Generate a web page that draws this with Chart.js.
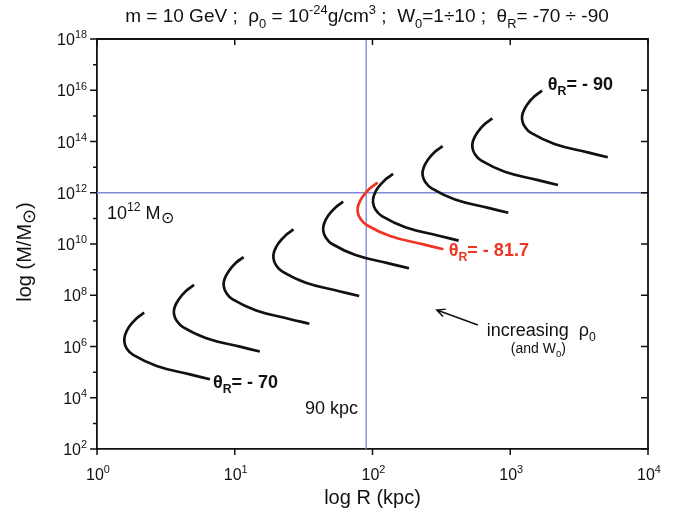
<!DOCTYPE html>
<html><head><meta charset="utf-8">
<script src="https://cdn.jsdelivr.net/npm/chart.js@4.4.1/dist/chart.umd.min.js"></script>
<style>html,body{margin:0;padding:0;background:#fff}</style>
</head><body>
<canvas id="c" width="688" height="516"></canvas>
<script>
// ---- data: R (kpc) and M (solar masses) along each curve ----
const R_m70   = [2.20, 1.94, 1.71, 1.60, 1.58, 1.64, 1.83, 2.71, 4.73, 6.61];
const M_m70   = [2.09e7, 1.26e7, 5.89e6, 2.82e6, 1.55e6, 8.51e5, 4.68e5, 1.74e5, 8.13e4, 5.25e4];
const R_m72   = [5.06, 4.46, 3.94, 3.66, 3.62, 3.78, 4.21, 6.22, 10.9, 15.2];
const M_m72   = [2.53e8, 1.52e8, 7.13e7, 3.41e7, 1.87e7, 1.03e7, 5.66e6, 2.10e6, 9.84e5, 6.35e5];
const R_m75   = [11.6, 10.2, 9.04, 8.41, 8.32, 8.67, 9.66, 14.3, 24.9, 34.8];
const M_m75   = [3.06e9, 1.85e9, 8.63e8, 4.13e8, 2.27e8, 1.25e8, 6.85e7, 2.55e7, 1.19e7, 7.69e6];
const R_m77   = [26.7, 23.5, 20.7, 19.3, 19.1, 19.9, 22.2, 32.8, 57.3, 80.0];
const M_m77   = [3.71e10, 2.23e10, 1.05e10, 5.00e9, 2.75e9, 1.51e9, 8.30e8, 3.08e8, 1.44e8, 9.31e7];
const R_m80   = [61.2, 54.0, 47.6, 44.4, 43.9, 45.7, 50.9, 75.3, 131, 184];
const M_m80   = [4.49e11, 2.70e11, 1.26e11, 6.05e10, 3.33e10, 1.83e10, 1.00e10, 3.73e9, 1.75e9, 1.13e9];
const R_m817  = [109, 95.9, 84.7, 78.9, 78.0, 81.3, 90.6, 134, 234, 327];
const M_m817  = [2.47e12, 1.49e12, 6.97e11, 3.33e11, 1.83e11, 1.01e11, 5.53e10, 2.06e10, 9.62e9, 6.21e9];
const R_m82   = [141, 124, 109, 102, 101, 105, 117, 173, 302, 422];
const M_m82   = [5.43e12, 3.27e12, 1.53e12, 7.33e11, 4.03e11, 2.21e11, 1.22e11, 4.52e10, 2.11e10, 1.36e10];
const R_m85   = [323, 284, 251, 234, 231, 241, 269, 397, 693, 968];
const M_m85   = [6.58e13, 3.96e13, 1.85e13, 8.87e12, 4.88e12, 2.68e12, 1.47e12, 5.47e11, 2.56e11, 1.65e11];
const R_m87   = [741, 653, 577, 537, 531, 553, 617, 912, 1592, 2223];
const M_m87   = [7.96e14, 4.80e14, 2.24e14, 1.07e14, 5.90e13, 3.24e13, 1.78e13, 6.62e12, 3.10e12, 2.00e12];
const R_m90   = [1702, 1500, 1324, 1233, 1219, 1271, 1416, 2094, 3656, 5105];
const M_m90   = [9.64e15, 5.81e15, 2.72e15, 1.30e15, 7.14e14, 3.93e14, 2.16e14, 8.02e13, 3.75e13, 2.42e13];

const refR = 90;      // kpc, vertical reference line
const refM = 1e12;    // solar masses, horizontal reference line

const xTickExponents = [0, 1, 2, 3, 4];
const yTickExponents = [2, 4, 6, 8, 10, 12, 14, 16, 18];
const yMinorExponents = [3, 5, 7, 9, 11, 13, 15, 17];

// ---------------------------------------------------------------
const FAM = "'Liberation Sans', Arial, sans-serif";
const BLACK = '#111111', RED = '#ee3524', BLUE = '#7f8ad6';

function pts(R, M) { return R.map((r, i) => ({ x: r, y: M[i] })); }
function curve(R, M, color) {
  return { data: pts(R, M), showLine: true, borderColor: color, borderWidth: 2.7,
           pointRadius: 0, tension: 0.45, fill: false, order: 0 };
}
const datasets = [
  { data: [{ x: refR, y: 1e2 }, { x: refR, y: 1e18 }], showLine: true, borderColor: BLUE, borderWidth: 1.4, pointRadius: 0, order: 2 },
  { data: [{ x: 1, y: refM }, { x: 1e4, y: refM }], showLine: true, borderColor: BLUE, borderWidth: 1.4, pointRadius: 0, order: 2 },
  curve(R_m70, M_m70, BLACK), curve(R_m72, M_m72, BLACK), curve(R_m75, M_m75, BLACK),
  curve(R_m77, M_m77, BLACK), curve(R_m80, M_m80, BLACK), curve(R_m82, M_m82, BLACK),
  curve(R_m85, M_m85, BLACK), curve(R_m87, M_m87, BLACK), curve(R_m90, M_m90, BLACK),
  curve(R_m817, M_m817, RED)
];

// rich text: parts = [[text, kind]] kind 0 normal, 1 sup, -1 sub, -2 large symbol subscript
function partSize(k, size) { return k === -2 ? size * 0.9 : (k ? size * 0.68 : size); }
function partDy(k, size) { return k === 1 ? -size * 0.42 : (k === -1 ? size * 0.3 : (k === -2 ? size * 0.2 : 0)); }
function richWidth(ctx, parts, size, weight) {
  let w = 0;
  for (const [t, k] of parts) {
    ctx.font = `${weight} ${partSize(k, size)}px ${FAM}`;
    w += ctx.measureText(t).width;
  }
  return w;
}
function rich(ctx, parts, x, y, size, opts) {
  opts = opts || {};
  const weight = opts.bold ? 'bold' : 'normal';
  const w = richWidth(ctx, parts, size, weight);
  let cx = x;
  if (opts.align === 'center') cx = x - w / 2;
  else if (opts.align === 'right') cx = x - w;
  ctx.fillStyle = opts.color || BLACK;
  ctx.textBaseline = 'alphabetic';
  ctx.textAlign = 'left';
  for (const [t, k] of parts) {
    ctx.font = `${weight} ${partSize(k, size)}px ${FAM}`;
    ctx.fillText(t, cx, y + partDy(k, size));
    cx += ctx.measureText(t).width;
  }
}

const deco = {
  id: 'deco',
  afterDraw(chart) {
    const ctx = chart.ctx, xs = chart.scales.x, ys = chart.scales.y, a = chart.chartArea;
    const X = v => xs.getPixelForValue(v), Y = v => ys.getPixelForValue(v);
    ctx.save();
    // frame top/right
    ctx.strokeStyle = BLACK; ctx.lineWidth = 1.8;
    ctx.beginPath();
    ctx.moveTo(a.left, a.top); ctx.lineTo(a.right, a.top); ctx.lineTo(a.right, a.bottom);
    ctx.stroke();
    ctx.lineWidth = 1.5;
    ctx.beginPath();
    for (const e of xTickExponents) {
      const px = X(Math.pow(10, e));
      ctx.moveTo(px, a.bottom); ctx.lineTo(px, a.bottom + 6);
      ctx.moveTo(px, a.top); ctx.lineTo(px, a.top + 6);
    }
    for (const e of yTickExponents) {
      const py = Y(Math.pow(10, e));
      ctx.moveTo(a.left - 7, py); ctx.lineTo(a.left, py);
      ctx.moveTo(a.right - 7, py); ctx.lineTo(a.right, py);
    }
    for (const e of yMinorExponents) {
      const py = Y(Math.pow(10, e));
      ctx.moveTo(a.left - 4, py); ctx.lineTo(a.left, py);
    }
    ctx.stroke();
    // tick labels
    for (const e of xTickExponents) {
      rich(ctx, [['10', 0], [String(e), 1]], X(Math.pow(10, e)) + 1, a.bottom + 31, 16, { align: 'center' });
    }
    for (const e of yTickExponents) {
      rich(ctx, [['10', 0], [String(e), 1]], a.left - 10, Y(Math.pow(10, e)) + 6, 16, { align: 'right' });
    }
    // axis titles
    rich(ctx, [['log R (kpc)', 0]], (a.left + a.right) / 2, 504, 20, { align: 'center' });
    ctx.save();
    ctx.translate(31, 252); ctx.rotate(-Math.PI / 2);
    rich(ctx, [['log (M/M', 0], ['\u2299', -2], [')', 0]], 0, 0, 20, { align: 'center' });
    ctx.restore();
    // title
    rich(ctx, [['m = 10 GeV ;  \u03C1', 0], ['0', -1], [' = 10', 0], ['-24', 1], ['g/cm', 0], ['3', 1],
               [' ;  W', 0], ['0', -1], ['=1\u00F710 ;  \u03B8', 0], ['R', -1], ['= -70 \u00F7 -90', 0]],
         367, 22, 19, { align: 'center' });
    // annotations
    rich(ctx, [['10', 0], ['12', 1], [' M', 0], ['\u2299', -2]], X(1.18), Y(9.5e10), 18);
    rich(ctx, [['90 kpc', 0]], X(32.3), Y(2.3e3), 18);
    rich(ctx, [['\u03B8', 0], ['R', -1], ['= - 70', 0]], X(6.95), Y(2.4e4), 18, { bold: true });
    rich(ctx, [['\u03B8', 0], ['R', -1], ['= - 81.7', 0]], X(358), Y(3.4e9), 18, { bold: true, color: RED });
    rich(ctx, [['\u03B8', 0], ['R', -1], ['= - 90', 0]], X(1875), Y(1.02e16), 18, { bold: true });
    rich(ctx, [['increasing  \u03C1', 0], ['0', -1]], X(676), Y(2.57e6), 18);
    rich(ctx, [['(and W', 0], ['0', -1], [')', 0]], X(1010), Y(5.6e5), 14);
    // arrow
    const hx = X(293), hy = Y(2.65e7), tx = X(582), ty = Y(6.9e6);
    const ang = Math.atan2(hy - ty, hx - tx);
    ctx.strokeStyle = BLACK; ctx.lineWidth = 1.5;
    ctx.beginPath(); ctx.moveTo(tx, ty); ctx.lineTo(hx, hy);
    ctx.moveTo(hx + 9 * Math.cos(ang + Math.PI - 0.45), hy + 9 * Math.sin(ang + Math.PI - 0.45));
    ctx.lineTo(hx, hy);
    ctx.lineTo(hx + 9 * Math.cos(ang + Math.PI + 0.45), hy + 9 * Math.sin(ang + Math.PI + 0.45));
    ctx.stroke();
    ctx.restore();
  }
};

const decadeTicks = (lo, hi) => scale => {
  const t = []; for (let e = lo; e <= hi; e++) t.push({ value: Math.pow(10, e) });
  scale.ticks = t;
};

new Chart(document.getElementById('c'), {
  type: 'scatter',
  data: { datasets },
  options: {
    responsive: false, animation: false,
    layout: { padding: { left: 97, right: 40, top: 39, bottom: 67 } },
    plugins: { legend: { display: false }, tooltip: { enabled: false }, title: { display: false } },
    scales: {
      x: { type: 'logarithmic', min: 1, max: 1e4, afterBuildTicks: decadeTicks(0, 4),
           grid: { display: false, drawTicks: false }, ticks: { display: false },
           border: { display: true, color: BLACK, width: 1.8 } },
      y: { type: 'logarithmic', min: 1e2, max: 1e18, afterBuildTicks: decadeTicks(2, 18),
           grid: { display: false, drawTicks: false }, ticks: { display: false },
           border: { display: true, color: BLACK, width: 1.8 } }
    }
  },
  plugins: [deco]
});
</script>
</body></html>
